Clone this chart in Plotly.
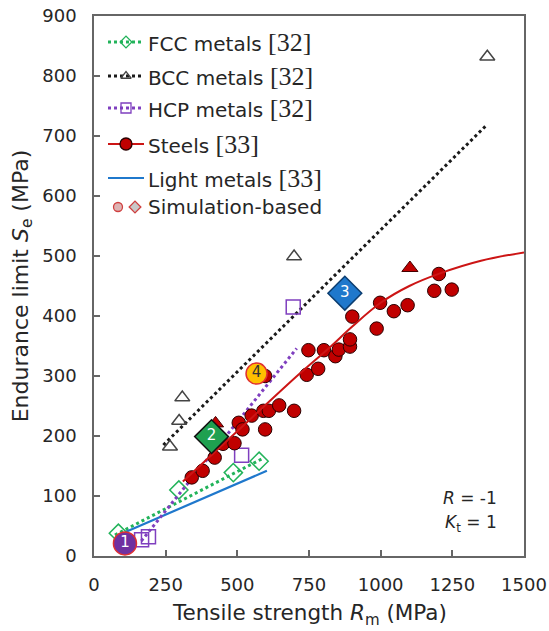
import plotly.graph_objects as go

# ---------------- data ----------------
fcc_x = [85, 296, 486, 576]
fcc_y = [38, 110, 139, 158]
fcc_fit_x = [73, 590]
fcc_fit_y = [35, 163]

bcc_x = [265, 297, 308, 698, 1372]
bcc_y = [182, 225, 264, 499, 832]
bcc_fit_x = [242, 1367]
bcc_fit_y = [185, 717]

hcp_x = [166, 190, 515, 695]
hcp_y = [27, 32, 168, 415]
hcp_fit_x = [165, 707]
hcp_fit_y = [25, 346]

steel_x = [341, 379, 421, 450, 490, 505, 518, 550, 597, 591, 610, 646, 698, 597,
           742, 782, 748, 802, 842, 854, 893, 893, 901, 986, 998, 1046, 1094, 1187,
           1203, 1248]
steel_y = [131, 142, 164, 187, 188, 222, 211, 234, 211, 242, 242, 251, 242, 300,
           302, 312, 343, 343, 333, 344, 349, 361, 399, 379, 422, 408, 418, 442,
           470, 444]
steel_fit_x = [310, 450, 590, 713, 823, 900, 1000, 1100, 1207, 1350, 1500]
steel_fit_y = [124, 186, 248, 302, 348, 382, 422, 450, 471, 492, 506]

light_fit_x = [110, 603]
light_fit_y = [40, 142]

red_tri_x = [424, 1102]
red_tri_y = [221, 480]

sim_x = [108, 410, 875, 567]
sim_y = [21, 199, 438, 304]
sim_labels = ["1", "2", "3", "4"]

x_ticks = [0, 250, 500, 750, 1000, 1250, 1500]
y_ticks = [0, 100, 200, 300, 400, 500, 600, 700, 800, 900]

# ---------------- style ----------------
GREEN = "#22B35A"
BLACK = "#1a1a1a"
PURPLE = "#7F3FBF"
RED = "#C00000"
REDLINE = "#CC1515"
BLUE = "#1F78CC"
TXT = "#262626"
FONT = "DejaVu Sans"
SERIF = "Liberation Serif"

fig = go.Figure()

# fit lines
fig.add_trace(go.Scatter(x=fcc_fit_x, y=fcc_fit_y, mode="lines",
                         line=dict(color=GREEN, width=3, dash="dot"), showlegend=False))
fig.add_trace(go.Scatter(x=bcc_fit_x, y=bcc_fit_y, mode="lines",
                         line=dict(color=BLACK, width=3, dash="dot"), showlegend=False))
fig.add_trace(go.Scatter(x=light_fit_x, y=light_fit_y, mode="lines",
                         line=dict(color=BLUE, width=2.2), showlegend=False))

# markers
fig.add_trace(go.Scatter(x=fcc_x, y=fcc_y, mode="markers",
                         marker=dict(symbol="diamond-open", size=14, color=GREEN,
                                     line=dict(width=1.5, color=GREEN)), showlegend=False))
fig.add_trace(go.Scatter(x=bcc_x, y=bcc_y, mode="markers",
                         marker=dict(symbol="triangle-up-open", size=13, color="#444",
                                     line=dict(width=1.5, color="#444")), showlegend=False))
fig.add_trace(go.Scatter(x=hcp_x, y=hcp_y, mode="markers",
                         marker=dict(symbol="square-open", size=14, color=PURPLE,
                                     line=dict(width=1.5, color=PURPLE)), showlegend=False))
fig.add_trace(go.Scatter(x=hcp_fit_x, y=hcp_fit_y, mode="lines",
                         line=dict(color=PURPLE, width=3, dash="dot"), showlegend=False))
fig.add_trace(go.Scatter(x=red_tri_x, y=red_tri_y, mode="markers",
                         marker=dict(symbol="triangle-up", size=14, color=RED,
                                     line=dict(width=1, color="#400")), showlegend=False))
fig.add_trace(go.Scatter(x=steel_x, y=steel_y, mode="markers",
                         marker=dict(symbol="circle", size=13.5, color=RED,
                                     line=dict(width=1, color="#2a0000")), showlegend=False))
fig.add_trace(go.Scatter(x=steel_fit_x, y=steel_fit_y, mode="lines",
                         line=dict(color=REDLINE, width=2, shape="spline"), showlegend=False))

# simulation-based points
sim_symbols = ["circle", "diamond", "diamond", "circle"]
sim_fill = ["#7030A0", "#1FA050", "#1F78CC", "#FFC000"]
sim_edge = ["#E03030", "#111111", "#0b3d70", "#E03030"]
sim_size = [23, 26, 26, 21]
sim_tcolor = ["white", "white", "white", "#333"]
fig.add_trace(go.Scatter(x=sim_x, y=sim_y, mode="markers+text", text=sim_labels,
                         textposition="middle center",
                         textfont=dict(family=FONT, size=15, color=sim_tcolor),
                         marker=dict(symbol=sim_symbols, size=sim_size, color=sim_fill,
                                     opacity=1,
                                     line=dict(width=1.5, color=sim_edge)),
                         showlegend=False))

# ---------------- manual legend on a pixel-unit overlay axis ----------------
leg_rows = [42, 76, 108, 144, 178, 207]
lx0, lx1, lxm, ltx = 108, 144, 126, 146

def leg_line(y, color, dash, width):
    fig.add_trace(go.Scatter(x=[lx0, lx1], y=[y, y], xaxis="x2", yaxis="y2", mode="lines",
                             line=dict(color=color, width=width, dash=dash),
                             showlegend=False, hoverinfo="skip"))

def leg_marker(x, y, symbol, size, fill, edge):
    fig.add_trace(go.Scatter(x=[x], y=[y], xaxis="x2", yaxis="y2", mode="markers",
                             marker=dict(symbol=symbol, size=size, color=fill,
                                         line=dict(width=1.3, color=edge)),
                             showlegend=False, hoverinfo="skip"))

leg_line(leg_rows[0], GREEN, "dot", 3)
leg_marker(lxm, leg_rows[0], "diamond-open", 9, GREEN, GREEN)
leg_line(leg_rows[1], BLACK, "dot", 3)
leg_marker(lxm, leg_rows[1], "triangle-up-open", 9, "#444", "#444")
leg_line(leg_rows[2], PURPLE, "dot", 3)
leg_marker(lxm, leg_rows[2], "square-open", 10, PURPLE, PURPLE)
leg_line(leg_rows[3], REDLINE, "solid", 2)
leg_marker(lxm, leg_rows[3], "circle", 12, RED, "#2a0000")
leg_line(leg_rows[4], BLUE, "solid", 2.2)
leg_marker(118, leg_rows[5], "circle", 9, "#DDB3B3", "#D04040")
leg_marker(135, leg_rows[5], "diamond", 9, "#C8C8C8", "#D04040")

ref = lambda s: f'<span style="font-family:{SERIF};font-size:26px">{s}</span>'
leg_texts = ["FCC metals " + ref("[32]"), "BCC metals " + ref("[32]"),
             "HCP metals " + ref("[32]"), "Steels " + ref("[33]"),
             "Light metals " + ref("[33]"), "Simulation-based"]
annotations = []
for t, y in zip(leg_texts, leg_rows):
    annotations.append(dict(x=ltx, y=y, xref="x2", yref="y2", text=t, showarrow=False,
                            xanchor="left", yanchor="middle",
                            font=dict(family=FONT, size=20, color=TXT)))

annotations.append(dict(x=499, y=498, xref="x2", yref="y2", text="<i>R</i> = -1",
                        showarrow=False, xanchor="right", yanchor="middle",
                        font=dict(family=FONT, size=17, color=TXT)))
annotations.append(dict(x=499, y=523, xref="x2", yref="y2", text="<i>K</i><sub>t</sub> = 1",
                        showarrow=False, xanchor="right", yanchor="middle",
                        font=dict(family=FONT, size=17, color=TXT)))
# x-axis title
annotations.append(dict(x=0.5, y=-0.108, xref="paper", yref="paper",
                        text="Tensile strength <i>R</i><sub>m</sub> (MPa)",
                        showarrow=False, xanchor="center", yanchor="middle",
                        font=dict(family=FONT, size=21.5, color=TXT)))

axis_common = dict(showgrid=False, zeroline=False, showline=True, linecolor="#666",
                   linewidth=1.5, mirror=True, ticks="inside", ticklen=6, tickwidth=1.5,
                   tickcolor="#666", tickfont=dict(family=FONT, size=18, color=TXT),
                   ticklabelstandoff=12)

fig.update_layout(
    width=549, height=631,
    margin=dict(l=94, r=25, t=16, b=75, pad=0, autoexpand=False),
    plot_bgcolor="white", paper_bgcolor="white",
    showlegend=False,
    xaxis=dict(range=[0, 1500], tickvals=x_ticks, ticktext=[str(v) for v in x_ticks],
               **axis_common),
    yaxis=dict(range=[0, 900], tickvals=y_ticks, ticktext=[str(v) for v in y_ticks],
               title=dict(text="Endurance limit <i>S</i><sub>e</sub> (MPa)",
                          font=dict(family=FONT, size=22, color=TXT), standoff=8),
               **axis_common),
    xaxis2=dict(overlaying="x", range=[94, 524], visible=False, fixedrange=True),
    yaxis2=dict(overlaying="y", range=[556, 16], visible=False, fixedrange=True),
    annotations=annotations,
)

fig.write_html("out.html")
